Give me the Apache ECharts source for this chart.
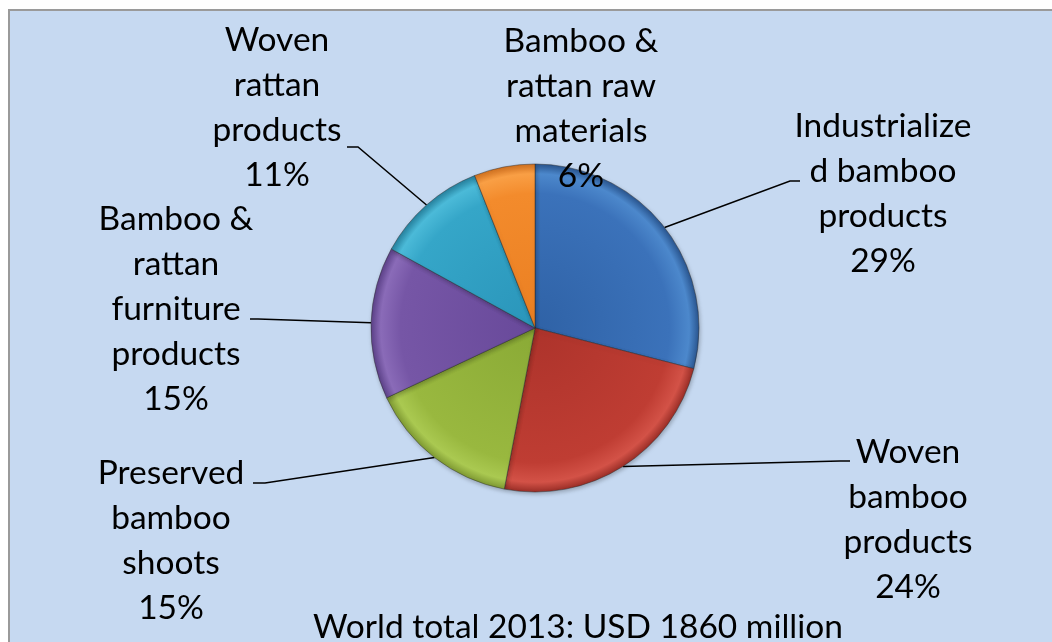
<!DOCTYPE html>
<html>
<head>
<meta charset="utf-8">
<script src="https://cdn.jsdelivr.net/npm/echarts@6/dist/echarts.min.js"></script>
<style>
  html, body { margin: 0; padding: 0; background: #ffffff; overflow: hidden; }
  #frame { position: absolute; left: 8px; top: 9px; width: 1100px; height: 700px;
           background: #c6d9f1; border-left: 2px solid #9a9a9a; border-top: 2px solid #9a9a9a; }
  #chart { position: absolute; left: 0; top: 0; width: 1052px; height: 642px; }
</style>
</head>
<body>
<div id="frame"></div>
<div id="chart"></div>
<script>
// ---- data ----
const categories = [
  'Industrialized bamboo products',
  'Woven bamboo products',
  'Preserved bamboo shoots',
  'Bamboo & rattan furniture products',
  'Woven rattan products',
  'Bamboo & rattan raw materials'
];
const labelText = [
  'Industrialize\nd bamboo\nproducts',
  'Woven\nbamboo\nproducts',
  'Preserved\nbamboo\nshoots',
  'Bamboo &\nrattan\nfurniture\nproducts',
  'Woven\nrattan\nproducts',
  'Bamboo &\nrattan raw\nmaterials'
];
const shares = [29, 24, 15, 15, 11, 6];
const titleText = 'World total 2013: USD 1860 million';

// ---- styles / layout ----
const baseColors = [
  ['#2f62a6', '#3b72ba', '#4c88cc', '#2a5690'],
  ['#ad332b', '#bf3d33', '#d35247', '#9a2e27'],
  ['#8aaa36', '#99b83f', '#aac951', '#7f9a33'],
  ['#68499a', '#7656a6', '#8a6bb8', '#5d428a'],
  ['#2a95ba', '#35a6c8', '#4bbad8', '#26829f'],
  ['#ea7f22', '#f38b2c', '#f99f45', '#d2711f']
];
const CX = 535, CY = 328, R = 164;
const labelPos = [
  { x: 883, y: 104, bend: [790, 181], end: [800, 181] },
  { x: 908, y: 430, bend: [840, 461], end: [850, 461] },
  { x: 171, y: 451, bend: [265, 483], end: [253, 483] },
  { x: 176, y: 197, bend: [258, 319], end: [250, 319] },
  { x: 277, y: 18,  bend: [358, 147], end: [347, 147] },
  { x: 581, y: 19,  bend: null, end: null }
];

const FONT = 'Lato';
const mctx = document.createElement('canvas').getContext('2d');
mctx.font = '100px ' + FONT;
const FS = Math.round(100 * 530 / mctx.measureText(titleText).width * 10) / 10;
const LH = 45;

const chart = echarts.init(document.getElementById('chart'), null, { renderer: 'canvas' });

const pieData = categories.map((name, i) => ({
  name: name,
  value: shares[i],
  itemStyle: {
    color: {
      type: 'radial', x: CX, y: CY, r: R, global: true,
      colorStops: [
        { offset: 0, color: baseColors[i][0] },
        { offset: 0.82, color: baseColors[i][1] },
        { offset: 0.94, color: baseColors[i][2] },
        { offset: 1, color: baseColors[i][3] }
      ]
    }
  },
  labelLine: { show: labelPos[i].end != null }
}));

chart.setOption({
  animation: false,
  backgroundColor: 'transparent',
  title: {
    text: titleText,
    left: 573,
    top: 605,
    textAlign: 'center',
    textStyle: { fontFamily: FONT, fontSize: FS, fontWeight: 'normal', color: '#000' }
  },
  series: [{
    type: 'pie',
    center: [CX, CY],
    radius: R,
    startAngle: 90,
    clockwise: true,
    avoidLabelOverlap: false,
    data: pieData,
    itemStyle: { borderColor: 'rgba(40,40,40,0.45)', borderWidth: 1,
                 shadowColor: 'rgba(0,0,0,0.25)', shadowBlur: 4, shadowOffsetX: 1, shadowOffsetY: 2 },
    label: {
      show: true,
      position: 'outside',
      formatter: p => labelText[p.dataIndex] + '\n' + Math.round(p.percent) + '%',
      fontFamily: FONT,
      fontSize: FS,
      lineHeight: LH,
      color: '#000',
      align: 'center'
    },
    labelLine: {
      show: true, length: 10, length2: 10, smooth: false,
      lineStyle: { color: '#000', width: 1.5 }
    },
    labelLayout: function (params) {
      const c = labelPos[params.dataIndex];
      const out = { x: c.x, y: c.y, align: 'center', verticalAlign: 'top' };
      if (c.end && params.labelLinePoints) {
        out.labelLinePoints = [params.labelLinePoints[0], c.bend, c.end];
      }
      return out;
    },
    emphasis: { disabled: true }
  }]
});
</script>
</body>
</html>
